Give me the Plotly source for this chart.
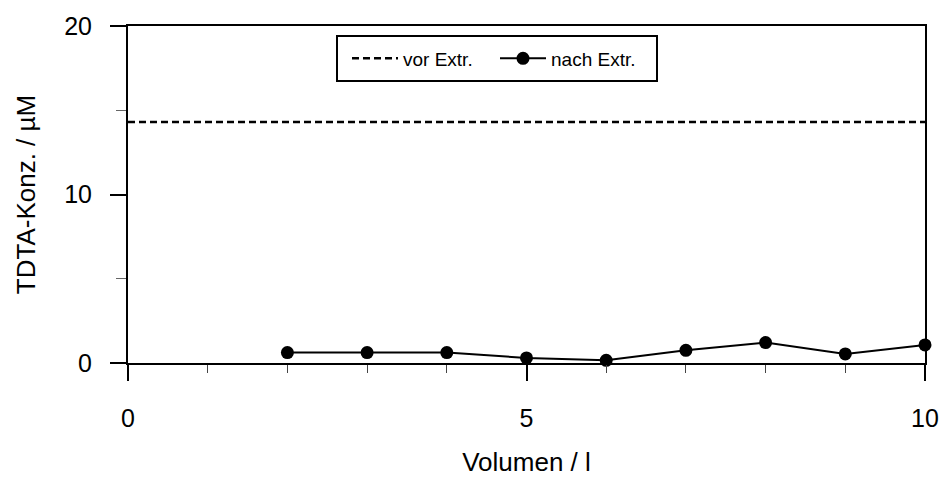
import plotly.graph_objects as go

# Data
volumen = [2, 3, 4, 5, 6, 7, 8, 9, 10]
nach_extr = [0.62, 0.62, 0.62, 0.30, 0.16, 0.75, 1.21, 0.54, 1.07]
vor_x = [0, 10]
vor_extr = [14.3, 14.3]

FONT = "Arial, Liberation Sans, sans-serif"

fig = go.Figure()
fig.add_trace(go.Scatter(
    x=vor_x, y=vor_extr, mode="lines", name="vor Extr.",
    line=dict(color="black", width=2.5, dash="7px,4px"),
    cliponaxis=False,
))
fig.add_trace(go.Scatter(
    x=volumen, y=nach_extr, mode="lines+markers", name="nach Extr.",
    line=dict(color="black", width=2),
    marker=dict(color="black", size=13, symbol="circle"),
    cliponaxis=False,
))

L, R, T, B = 128, 925, 26, 363
W, H = R - L, B - T

def px(x):
    return (x - L) / W

def py(y):
    return (B - y) / H

fig.update_layout(
    width=942, height=487,
    margin=dict(l=L, r=942 - R, t=T, b=487 - B),
    paper_bgcolor="white", plot_bgcolor="white",
    font=dict(family=FONT, color="black", size=25),
    showlegend=True,
    legend=dict(
        orientation="h",
        x=px(347), y=py(58.5), xanchor="left", yanchor="middle",
        borderwidth=0,
        font=dict(size=19, family=FONT),
        bgcolor="rgba(0,0,0,0)",
        entrywidth=87,
        itemwidth=46,
    ),
    shapes=[dict(
        type="rect", xref="paper", yref="paper",
        x0=px(337), x1=px(657), y0=py(81), y1=py(36),
        line=dict(color="black", width=2), fillcolor="white", layer="below",
    )],
    xaxis=dict(
        range=[0, 10], tickvals=[0, 5, 10], automargin=False,
        showline=True, linecolor="black", linewidth=2, mirror=True,
        ticks="outside", ticklen=16, tickwidth=2, tickcolor="black",
        minor=dict(dtick=1, ticks="outside", ticklen=8, tickwidth=1, tickcolor="#444"),
        showgrid=False, zeroline=False,
        ticklabelstandoff=16,
        tickfont=dict(size=25),
        title=dict(text="Volumen / l", font=dict(size=26), standoff=22),
    ),
    yaxis=dict(
        range=[0, 20], tickvals=[0, 10, 20], automargin=False,
        showline=True, linecolor="black", linewidth=2, mirror=True,
        ticks="outside", ticklen=16, tickwidth=2, tickcolor="black",
        minor=dict(dtick=5, ticks="outside", ticklen=10, tickwidth=1, tickcolor="#666"),
        showgrid=False, zeroline=False,
        ticklabelstandoff=13,
        tickfont=dict(size=25),
        title=dict(text="TDTA-Konz. / µM", font=dict(size=26), standoff=21),
    ),
)

fig.write_html("out.html")
